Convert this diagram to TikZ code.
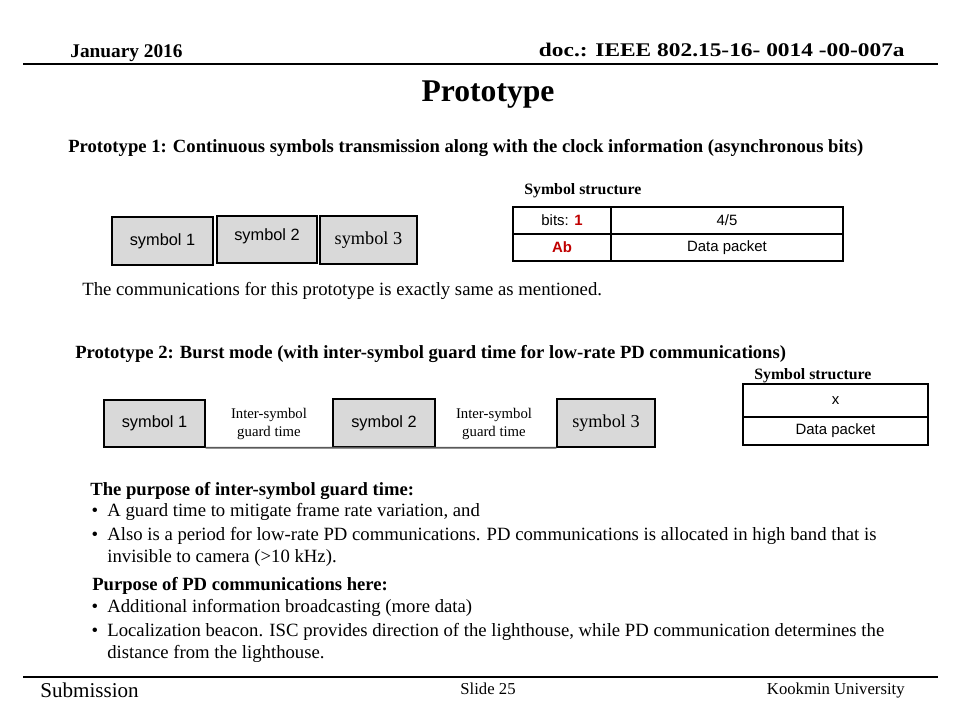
\documentclass[tikz,border=0pt]{standalone}
\usepackage{fontspec}
\setmainfont{Liberation Serif}
\setsansfont{Liberation Sans}
\definecolor{boxgray}{RGB}{217,217,217}
\definecolor{bitred}{RGB}{192,0,0}
\begin{document}
\begin{tikzpicture}[x=0.02cm, y=-0.02cm, every node/.style={inner sep=0pt},
  hdr/.style={font=\fontsize{11}{12}\selectfont\bfseries},
  head/.style={anchor=base west, font=\fontsize{10.6}{12}\selectfont\bfseries},
  body/.style={anchor=base west, font=\fontsize{10.65}{12}\selectfont},
  small/.style={anchor=base west, font=\fontsize{9}{10}\selectfont\bfseries},
  symbox/.style={draw, line width=0.8pt, fill=boxgray, minimum height=0.96cm,
    font=\sffamily\fontsize{9.3}{10}\selectfont},
  guard/.style={align=center, font=\fontsize{8.4}{10.5}\selectfont},
  cell/.style={font=\sffamily\fontsize{8.5}{10}\selectfont},
  rule/.style={line width=1.1pt}]
  \useasboundingbox (0,0) rectangle (960,720);
  % Header and footer
  \node[hdr, anchor=base west] (date) at (70,57) {January 2016};
  \node[hdr, anchor=base east] (doc) at (905,56)
    {\scalebox{1.21}[1]{doc.: IEEE 802.15-16- 0014 -00-007a}};
  \draw[rule] (23,64) -- (938,64);
  \draw[rule] (23,677) -- (938,677);
  \node[anchor=base west, font=\fontsize{12}{14}\selectfont] (sub) at (40,697) {Submission};
  \node[anchor=base, font=\fontsize{9.5}{12}\selectfont] (slide) at (488,694) {Slide 25};
  \node[anchor=base east, font=\fontsize{9.5}{12}\selectfont] (univ) at (905,694) {Kookmin University};
  \node[anchor=base, font=\fontsize{18}{20}\selectfont\bfseries] (title) at (488,101) {Prototype};
  % Prototype 1
  \node[head] (p1) at (68,152) {Prototype 1: Continuous symbols transmission along with the clock information (asynchronous bits)};
  \node[symbox, minimum width=2.02cm] (a1) at (162.5,241) {symbol 1};
  \node[symbox, minimum width=2.0cm, minimum height=0.94cm, text depth=6pt] (a2) at (267,239.5) {symbol 2};
  \node[symbox, minimum width=1.94cm, font=\fontsize{10.4}{12}\selectfont] (a3) at (368.5,240) {symbol 3};
  \node[body] (same) at (82,295) {The communications for this prototype is exactly same as mentioned.};
  \node[small] (ss1) at (524,194) {Symbol structure};
  \draw[line width=0.6pt] (513,207) rectangle (843,261);
  \draw[line width=0.6pt] (513,234) -- (843,234) (611,207) -- (611,261);
  \node[cell] (bits) at (562,220.5) {bits: \textcolor{bitred}{\bfseries 1}};
  \node[cell] (frac) at (727,220.5) {4/5};
  \node[cell, text=bitred, font=\sffamily\bfseries\fontsize{8.5}{10}\selectfont] (ab) at (562,247.5) {Ab};
  \node[cell] (data1) at (727,247.5) {Data packet};
  % Prototype 2
  \node[head] (p2) at (75,358) {Prototype 2: Burst mode (with inter-symbol guard time for low-rate PD communications)};
  \node[symbox, minimum width=2.02cm, minimum height=0.94cm] (b1) at (154.5,423.5) {symbol 1};
  \node[guard] (g1) at (269,424) {Inter-symbol\\guard time};
  \node[symbox, minimum width=2.04cm] (b2) at (384,423) {symbol 2};
  \node[guard] (g2) at (494,424) {Inter-symbol\\guard time};
  \node[symbox, minimum width=1.96cm, font=\fontsize{10.4}{12}\selectfont] (b3) at (606,423) {symbol 3};
  \draw[line width=1pt, black!65] (b1.south east) -- (b3.south west);
  \node[small] (ss2) at (754,379) {Symbol structure};
  \draw[line width=0.6pt] (743,384) rectangle (928,445);
  \draw[line width=0.6pt] (743,417) -- (928,417);
  \node[cell] (x) at (835.5,400.5) {x};
  \node[cell] (data2) at (835.5,431) {Data packet};
  % Notes
  \node[head] (why) at (90,495) {The purpose of inter-symbol guard time:};
  \foreach \n/\y/\t in {w1/516/{A guard time to mitigate frame rate variation, and},
      w2/540/{Also is a period for low-rate PD communications. PD communications is allocated in high band that is},
      w3/562/{invisible to camera (>10 kHz).}} {
    \node[body] (\n) at (107,\y) {\t};
  }
  \node[head] (pd) at (92,590) {Purpose of PD communications here:};
  \foreach \n/\y/\t in {q1/612/{Additional information broadcasting (more data)},
      q2/636/{Localization beacon. ISC provides direction of the lighthouse, while PD communication determines the},
      q3/658/{distance from the lighthouse.}} {
    \node[body] (\n) at (107,\y) {\t};
  }
  \foreach \y in {516,540,612,636}
    \node[body, anchor=base] at (95,\y) {•};
\end{tikzpicture}
\end{document}
